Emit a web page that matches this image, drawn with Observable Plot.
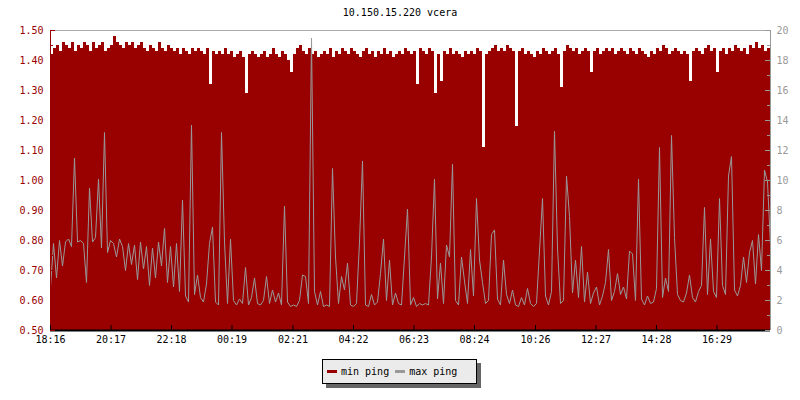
<!DOCTYPE html>
<html><head><meta charset="utf-8">
<script src="https://cdn.jsdelivr.net/npm/d3@7"></script>
<script src="https://cdn.jsdelivr.net/npm/@observablehq/plot@0.6"></script>
<style>
body{margin:0;background:#fff;width:800px;height:400px;position:relative;font-family:"DejaVu Sans Mono",monospace;overflow:hidden}
#title{height:26px;line-height:26px;text-align:center;font-size:10px;color:#000}
#chart svg{display:block}
#legend{position:absolute;left:322px;top:359px;width:155px;height:25px;box-sizing:border-box;border:1px solid #000;background:#ebebeb;box-shadow:4px 4px 0 #666;font-size:10px;display:flex;align-items:center;padding-left:4px;color:#000}
.sw{display:inline-block;width:10px;height:3px;margin-right:4px}
</style>
</head><body>
<div id="title">10.150.15.220 vcera</div>
<div id="chart"></div>
<div id="legend"><span class="sw" style="background:#990000"></span><span>min ping</span><span class="sw" style="background:#999;margin-left:6px"></span><span>max ping</span></div>
<script>
// min ping (left axis, ms) sampled every 6 minutes from 18:16
const minPing = [
1.42,1.44,1.45,1.43,1.46,1.45,1.44,1.46,1.43,1.45,
1.44,1.46,1.45,1.43,1.46,1.44,1.45,1.46,1.43,1.44,
1.45,1.48,1.46,1.45,1.44,1.46,1.45,1.46,1.44,1.45,
1.46,1.44,1.43,1.45,1.44,1.43,1.46,1.44,1.43,1.45,
1.44,1.43,1.44,1.42,1.44,1.43,1.42,1.44,1.43,1.44,
1.43,1.42,1.44,1.32,1.43,1.42,1.43,1.42,1.44,1.42,
1.43,1.41,1.42,1.43,1.41,1.29,1.42,1.43,1.42,1.41,
1.42,1.43,1.41,1.42,1.44,1.42,1.41,1.43,1.42,1.40,
1.36,1.42,1.44,1.45,1.43,1.42,1.44,1.42,1.43,1.41,
1.42,1.43,1.42,1.44,1.41,1.43,1.42,1.44,1.43,1.42,
1.44,1.43,1.42,1.41,1.43,1.44,1.42,1.43,1.41,1.43,
1.42,1.44,1.42,1.43,1.41,1.42,1.43,1.42,1.44,1.43,
1.42,1.43,1.32,1.44,1.43,1.42,1.44,1.43,1.29,1.42,
1.33,1.43,1.42,1.44,1.42,1.43,1.42,1.41,1.43,1.42,
1.43,1.42,1.44,1.43,1.11,1.42,1.43,1.44,1.45,1.43,
1.44,1.43,1.45,1.44,1.43,1.18,1.43,1.44,1.42,1.43,
1.42,1.41,1.43,1.42,1.44,1.43,1.42,1.43,1.44,1.42,
1.31,1.43,1.45,1.44,1.43,1.44,1.42,1.43,1.44,1.43,
1.36,1.43,1.44,1.42,1.43,1.44,1.43,1.44,1.42,1.43,
1.44,1.43,1.42,1.44,1.43,1.42,1.44,1.43,1.42,1.41,
1.43,1.42,1.44,1.43,1.45,1.44,1.42,1.43,1.44,1.43,
1.42,1.43,1.42,1.33,1.43,1.44,1.43,1.42,1.44,1.45,
1.43,1.44,1.36,1.43,1.44,1.42,1.44,1.43,1.45,1.44,
1.43,1.44,1.42,1.45,1.44,1.46,1.44,1.45,1.43,1.44,1.44
];
// max ping (right axis, ms)
const maxPing = [
2.9,5.8,3.5,6.0,4.3,5.9,6.1,5.6,11.5,5.9,
6.0,5.8,3.2,9.5,5.9,6.2,10.1,5.5,13.2,5.2,
6.0,5.8,4.9,6.1,5.6,4.0,5.8,4.4,5.7,3.4,
5.9,4.1,5.6,3.0,5.5,3.5,5.9,4.3,6.8,3.2,
5.6,2.9,5.8,2.6,8.7,2.3,1.9,13.7,2.4,3.7,
2.2,1.9,3.1,5.8,6.9,1.9,1.7,13.2,5.9,1.8,
6.1,2.0,1.7,2.1,1.8,4.2,1.7,2.2,3.5,1.8,
1.7,2.0,3.6,1.8,2.7,1.9,2.5,1.7,8.3,1.9,
1.6,1.7,1.6,2.0,3.7,3.6,1.8,19.5,2.6,1.7,
2.6,1.6,1.7,1.6,10.8,4.9,1.8,3.6,2.7,4.5,
1.7,1.6,1.8,5.9,11.3,1.7,1.6,2.4,1.7,1.9,
3.8,6.1,2.0,4.7,1.7,2.5,1.8,1.7,4.9,8.1,
1.7,2.2,1.6,1.8,1.7,1.8,1.7,4.9,10.1,2.1,
4.5,1.8,5.7,4.9,11.1,2.0,1.7,4.9,3.3,1.8,
5.4,2.3,8.8,4.7,3.2,1.8,2.0,6.4,6.7,2.1,
1.7,4.7,2.4,1.8,2.7,1.7,1.6,2.2,1.7,2.8,
1.8,1.6,1.8,5.3,8.8,2.3,1.7,2.6,13.3,5.5,
1.8,2.0,10.3,7.6,2.5,4.7,2.2,5.6,1.9,3.9,
1.8,2.5,2.9,1.7,2.3,3.2,5.4,2.0,2.6,3.8,
2.4,2.9,2.1,5.3,5.1,2.0,10.1,2.1,1.7,2.3,
1.8,1.9,2.8,12.2,2.2,3.5,2.6,13.0,6.2,2.4,
2.0,1.9,2.5,3.7,2.2,1.9,2.6,3.0,8.2,2.4,
6.1,2.6,2.2,8.8,3.0,2.4,10.3,11.6,2.7,2.3,
3.0,4.9,3.2,5.2,6.0,3.1,6.4,4.0,10.7,9.9,5.7
];
const xTickLabels = ["18:16","20:17","22:18","00:19","02:21","04:22","06:23","08:24","10:26","12:27","14:28","16:29"];
const leftTicks = [0.50,0.60,0.70,0.80,0.90,1.00,1.10,1.20,1.30,1.40,1.50];
const leftMinor = [0.55,0.65,0.75,0.85,0.95,1.05,1.15,1.25,1.35,1.45];
const rightTicks = [0,2,4,6,8,10,12,14,16,18,20];
const rightMinor = [1,3,5,7,9,11,13,15,17,19];
const startTime = "18:16";
const stepMinutes = 6;
const spanHours = 24;

const RED = "#990000", GRAY = "#999999";
const [sh, sm] = startTime.split(":").map(Number);
const t0 = Date.UTC(2000, 0, 1, sh, sm);
const t1 = t0 + spanHours * 3600000;
const rows = minPing.map((m, i) => ({t: new Date(t0 + i * stepMinutes * 60000), min: m, max: maxPing[i]}));
const xTicks = xTickLabels.map(s => {
  const [h, m] = s.split(":").map(Number);
  return new Date(Date.UTC(2000, 0, h < sh || (h === sh && m < sm) ? 2 : 1, h, m));
});
const r2l = v => 0.5 + v / 20; // right axis (0..20) onto left scale (0.5..1.5)

const W = 800, H = 326, mL = 50, mR = 30, mT = 4, mB = 22;
const fw = W - mL - mR, fh = H - mT - mB;

const chart = Plot.plot({
  width: W, height: H,
  marginTop: mT, marginBottom: mB, marginLeft: mL, marginRight: mR,
  x: {type: "utc", domain: [new Date(t0), new Date(t1)], label: null},
  y: {domain: [0.5, 1.5], label: null},
  style: {fontFamily: "DejaVu Sans Mono, monospace", fontSize: "10px", background: "white", color: "black"},
  marks: [
    Plot.areaY(rows, {x: "t", y1: 0.5, y2: "min", fill: RED, curve: "step-after"}),
    Plot.line(rows, {x: "t", y: d => r2l(d.max), stroke: GRAY, strokeWidth: 1, curve: "linear"}),
    Plot.ruleY([1.5], {stroke: "#aaaaaa"}),
    Plot.ruleX([new Date(t0)], {stroke: RED}),
    Plot.ruleX([new Date(t1)], {stroke: GRAY}),
    Plot.ruleY([0.5], {stroke: "#000", strokeWidth: 2}),
    Plot.tickY(leftTicks, {y: d => d, stroke: RED, insetRight: fw - 5}),
    Plot.tickY(leftMinor, {y: d => d, stroke: RED, insetRight: fw - 3}),
    Plot.tickY(rightTicks.map(r2l), {y: d => d, stroke: GRAY, insetLeft: fw - 5}),
    Plot.tickY(rightMinor.map(r2l), {y: d => d, stroke: GRAY, insetLeft: fw - 3}),
    Plot.tickX(xTicks, {x: d => d, stroke: "#000", insetTop: fh - 5}),
    Plot.axisY(leftTicks, {anchor: "left", tickSize: 0, tickPadding: 7, tickFormat: d3.format(".2f"), color: RED, label: null}),
    Plot.axisY(rightTicks.map(r2l), {anchor: "right", tickSize: 0, tickPadding: 6, tickFormat: d => String(Math.round((d - 0.5) * 20)), color: GRAY, label: null}),
    Plot.axisX(xTicks, {anchor: "bottom", tickSize: 0, tickPadding: 5, tickFormat: d3.utcFormat("%H:%M"), color: "#000", label: null})
  ]
});
document.getElementById("chart").appendChild(chart);
</script>
</body></html>
